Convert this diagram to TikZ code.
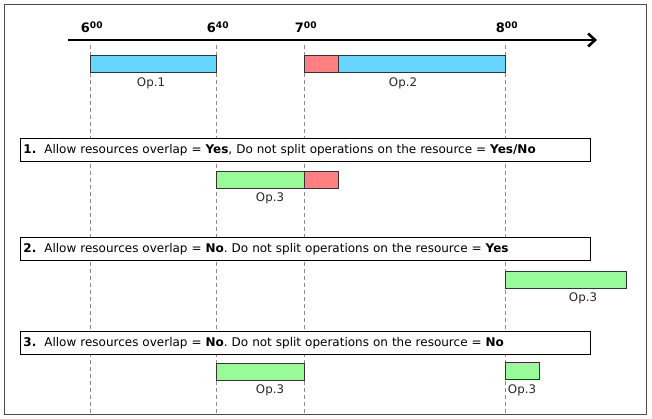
\documentclass[tikz,border=0pt]{standalone}
\usepackage{fontspec}
\setmainfont{DejaVu Sans}
\usetikzlibrary{positioning, arrows.meta}
\frenchspacing

\definecolor{opblue}{HTML}{66D6FF}
\definecolor{opred}{HTML}{FF8080}
\definecolor{opgreen}{HTML}{98FA98}

\tikzset{
  bar/.style={draw=black!80, line width=0.8pt, minimum height=17pt, inner sep=0pt, anchor=north west, outer sep=0pt},
  oplabel/.style={font=\fontsize{11.8}{13}\selectfont, text=black!85, inner sep=1pt},
  tick/.style={font=\bfseries\fontsize{13}{15}\selectfont, inner sep=0pt, anchor=base},
  guide/.style={dashed, black!45, line width=0.5pt, dash pattern=on 4pt off 3pt},
  case/.style={draw, line width=0.8pt, minimum width=570pt, minimum height=23pt, anchor=north west,
    inner sep=2pt, text width=564pt, align=left, font=\fontsize{12}{14}\selectfont},
}

\begin{document}
\begin{tikzpicture}[x=1pt, y=-1pt]
      \useasboundingbox (0,0) rectangle (652,419);
      \draw[black!70, line width=0.8pt] (4,4) rectangle (646,414);
      % time axis
      \coordinate (start) at (68,40);
      \coordinate (stop) at (597,40);
      \draw[line width=2.6pt, -{Straight Barb[length=7pt, width=13pt, line width=2.6pt]}] (start) -- (stop);
      \foreach \x/\name/\t in {90/t600/6\textsuperscript{00}, 216/t640/6\textsuperscript{40},
                               304/t700/7\textsuperscript{00}, 505/t800/8\textsuperscript{00}} {
        \node[tick] (\name) at (\x+2,33) {\t};
        \coordinate (\name top) at (\x,45);
        \coordinate (\name bot) at (\x,413);
        \draw[guide] (\name top) -- (\name bot);
      }
      % operations on the resource
      \node[bar, fill=opblue, minimum width=126pt] (op1) at (90,55) {};
      \node[bar, fill=opred, minimum width=34pt] (op2a) at (304,55) {};
      \node[bar, fill=opblue, minimum width=167pt, anchor=north west] (op2b) at (op2a.north east) {};
      \node[oplabel] (op1lab) at (151,83) {Op.1};
      \node[oplabel] (op2lab) at (403,83) {Op.2};
      % case 1
      \node[case, fill=white] (case1) at (20,138) {\textbf{1.}\ \ Allow resources overlap = \textbf{Yes}, Do not split operations on the resource = \textbf{Yes/No}};
      \node[bar, fill=opgreen, minimum width=88pt] (c1a) at (216,171) {};
      \node[bar, fill=opred, minimum width=34pt] (c1b) at (c1a.north east) {};
      \node[oplabel] (c1lab) at (270,198) {Op.3};
      % case 2
      \node[case, fill=white] (case2) at (20,237) {\textbf{2.}\ \ Allow resources overlap = \textbf{No}. Do not split operations on the resource = \textbf{Yes}};
      \node[bar, fill=opgreen, minimum width=121pt] (c2a) at (505,271) {};
      \node[oplabel] (c2lab) at (583,298) {Op.3};
      % case 3
      \node[case, fill=white] (case3) at (20,331) {\textbf{3.}\ \ Allow resources overlap = \textbf{No}. Do not split operations on the resource = \textbf{No}};
      \node[bar, fill=opgreen, minimum width=88pt] (c3a) at (216,363) {};
      \node[bar, fill=opgreen, minimum width=34pt] (c3b) at (505,362) {};
      \node[oplabel] (c3alab) at (270,390) {Op.3};
      \node[oplabel] (c3blab) at (522,390) {Op.3};
\end{tikzpicture}
\end{document}
